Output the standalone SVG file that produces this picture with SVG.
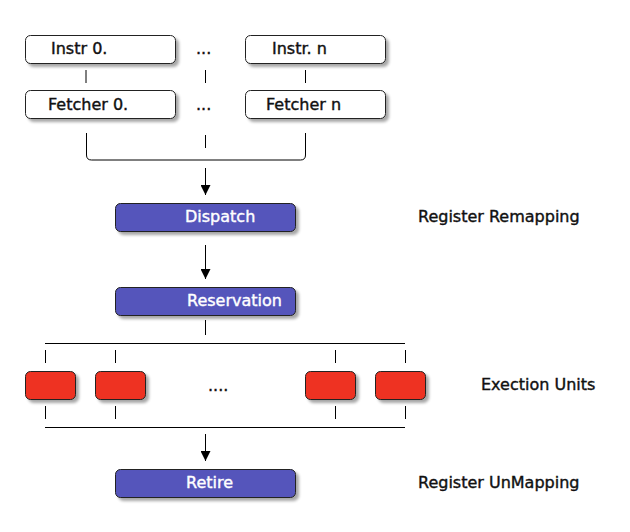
<svg xmlns="http://www.w3.org/2000/svg" width="630" height="532" viewBox="0 0 630 532">
<defs>
<filter id="sh" x="-20%" y="-30%" width="140%" height="170%">
<feGaussianBlur in="SourceAlpha" stdDeviation="1.6"/>
<feOffset dx="2.5" dy="3" result="b"/>
<feComponentTransfer><feFuncA type="linear" slope="0.35"/></feComponentTransfer>
<feMerge><feMergeNode/><feMergeNode in="SourceGraphic"/></feMerge>
</filter>
<marker id="ah" viewBox="0 0 10 10" refX="10" refY="5" markerWidth="10" markerHeight="10" markerUnits="userSpaceOnUse" orient="auto">
<path d="M0,0 L10,5 L0,10 z" fill="#000"/>
</marker>
</defs>
<style>
text{font-family:"DejaVu Sans",sans-serif;font-size:16px;fill:#111;stroke:#111;stroke-width:0.4}
.w rect{fill:#fff;stroke:#222;stroke-width:1}
.b rect{fill:#5555bb;stroke:#222;stroke-width:1}
.r rect{fill:#ee3322;stroke:#222;stroke-width:1}
.b text{fill:#fff;stroke:#fff}
.c line,.c path{stroke:#000;stroke-width:1;fill:none}
</style>
<rect width="630" height="532" fill="#fff"/>
<g class="c" id="connectors">
<line x1="86" y1="70" x2="86" y2="83"/>
<line x1="205.5" y1="70" x2="205.5" y2="83"/>
<line x1="305.5" y1="70" x2="305.5" y2="83"/>
<path d="M86.5,133 V155 Q86.5,160 91.5,160 H300.5 Q305.5,160 305.5,155 V133"/>
<line x1="205.5" y1="135" x2="205.5" y2="148"/>
<line x1="205.5" y1="168" x2="205.5" y2="195" marker-end="url(#ah)"/>
<line x1="205.5" y1="245" x2="205.5" y2="279" marker-end="url(#ah)"/>
<line x1="205.5" y1="320" x2="205.5" y2="335"/>
<line x1="45" y1="343.5" x2="405" y2="343.5"/>
<line x1="45.5" y1="350" x2="45.5" y2="363"/>
<line x1="115.5" y1="350" x2="115.5" y2="363"/>
<line x1="335.5" y1="350" x2="335.5" y2="363"/>
<line x1="405.5" y1="350" x2="405.5" y2="363"/>
<line x1="45.5" y1="406" x2="45.5" y2="419"/>
<line x1="115.5" y1="406" x2="115.5" y2="419"/>
<line x1="335.5" y1="406" x2="335.5" y2="419"/>
<line x1="405.5" y1="406" x2="405.5" y2="419"/>
<line x1="45" y1="427.5" x2="405" y2="427.5"/>
<line x1="205.5" y1="434" x2="205.5" y2="461" marker-end="url(#ah)"/>
</g>
<g id="instr0" class="w"><rect x="25.5" y="35.5" width="150" height="28" rx="5" filter="url(#sh)"/><text x="51" y="54">Instr 0.</text></g>
<g id="instrn" class="w"><rect x="245.5" y="35.5" width="140" height="28" rx="5" filter="url(#sh)"/><text x="272" y="54">Instr. n</text></g>
<g id="fetcher0" class="w"><rect x="25.5" y="90.5" width="150" height="28" rx="5" filter="url(#sh)"/><text x="48" y="110">Fetcher 0.</text></g>
<g id="fetchern" class="w"><rect x="245.5" y="90.5" width="140" height="28" rx="5" filter="url(#sh)"/><text x="266" y="110">Fetcher n</text></g>
<g id="dots1"><text x="196" y="54">...</text></g>
<g id="dots2"><text x="196" y="110">...</text></g>
<g id="dispatch" class="b"><rect x="115.5" y="203.5" width="180" height="28" rx="5" filter="url(#sh)"/><text x="185" y="222">Dispatch</text></g>
<g id="reservation" class="b"><rect x="115.5" y="287.5" width="180" height="28" rx="5" filter="url(#sh)"/><text x="187" y="306">Reservation</text></g>
<g id="eu1" class="r"><rect x="25.5" y="371.5" width="50" height="28" rx="5" filter="url(#sh)"/></g>
<g id="eu2" class="r"><rect x="95.5" y="371.5" width="50" height="28" rx="5" filter="url(#sh)"/></g>
<g id="eu3" class="r"><rect x="305.5" y="371.5" width="50" height="28" rx="5" filter="url(#sh)"/></g>
<g id="eu4" class="r"><rect x="375.5" y="371.5" width="50" height="28" rx="5" filter="url(#sh)"/></g>
<g id="dots3"><text x="208" y="391">....</text></g>
<g id="retire" class="b"><rect x="115.5" y="469.5" width="180" height="28" rx="5" filter="url(#sh)"/><text x="186" y="488">Retire</text></g>
<g id="lbl1"><text x="418" y="222">Register Remapping</text></g>
<g id="lbl2"><text x="481" y="390">Exection Units</text></g>
<g id="lbl3"><text x="418" y="488">Register UnMapping</text></g>
</svg>
